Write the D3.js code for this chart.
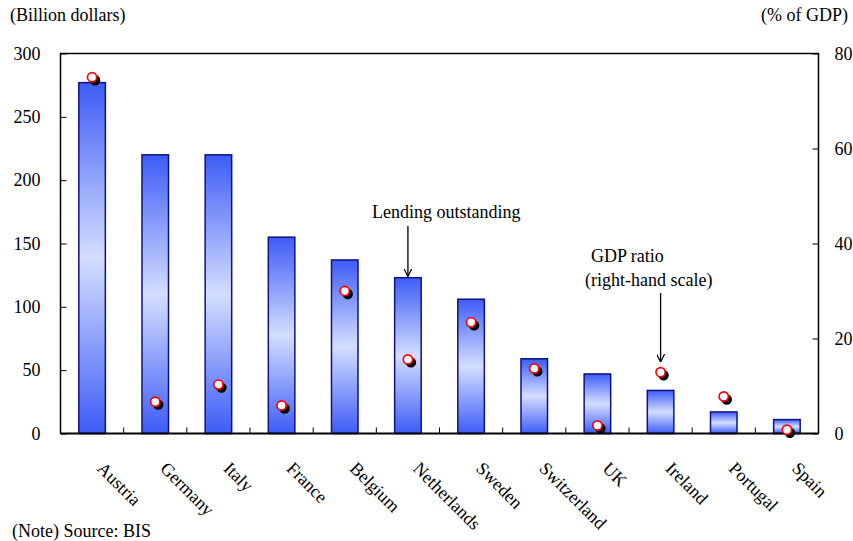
<!DOCTYPE html>
<html>
<head>
<meta charset="utf-8">
<script src="https://cdn.jsdelivr.net/npm/d3@7"></script>
<style>
  html, body { margin: 0; padding: 0; background: #fff; }
  svg text { font-family: "Liberation Serif", "Times New Roman", Times, "DejaVu Serif", serif; fill: #000; }
</style>
</head>
<body>
<svg id="chart" width="853" height="541"></svg>
<script>
// Cross-border lending by country (bars, left axis) and its ratio to GDP (dots, right axis)
const countries = ["Austria", "Germany", "Italy", "France", "Belgium", "Netherlands",
                   "Sweden", "Switzerland", "UK", "Ireland", "Portugal", "Spain"];
const lending = [277, 220, 220, 155, 137, 123, 106, 59, 47, 34, 17, 11];        // billion dollars
const gdpRatio = [75, 6.7, 10.3, 5.9, 30, 15.6, 23.4, 13.7, 1.7, 12.9, 7.8, 0.8]; // % of GDP
const leftTicks = [0, 50, 100, 150, 200, 250, 300];
const rightTicks = [0, 20, 40, 60, 80];

const serif = "'Liberation Serif', 'Times New Roman', Times, serif";
const svg = d3.select("#chart");
const m = { left: 60.5, right: 818.5, top: 53.5, bottom: 433.5 };
const fontSize = 18;

const x = d3.scaleBand().domain(countries).range([m.left, m.right]).paddingInner(0.58).paddingOuter(0.29);
const xOuter = d3.scaleBand().domain(countries).range([m.left, m.right]);
const yL = d3.scaleLinear().domain([0, 300]).range([m.bottom, m.top]);
const yR = d3.scaleLinear().domain([0, 80]).range([m.bottom, m.top]);

// Vertical gradient for bars: saturated at both ends, pale in the middle
const defs = svg.append("defs");
const grad = defs.append("linearGradient").attr("id", "barGrad")
  .attr("x1", 0).attr("y1", 0).attr("x2", 0).attr("y2", 1);
grad.append("stop").attr("offset", "0%").attr("stop-color", "#3d5cf6");
grad.append("stop").attr("offset", "50%").attr("stop-color", "#d4deff");
grad.append("stop").attr("offset", "100%").attr("stop-color", "#3d5cf6");

// Bars
svg.append("g").selectAll("rect").data(countries).join("rect")
  .attr("x", d => x(d))
  .attr("y", (d, i) => yL(lending[i]))
  .attr("width", x.bandwidth())
  .attr("height", (d, i) => yL(0) - yL(lending[i]))
  .attr("fill", "url(#barGrad)")
  .attr("stroke", "#10108a")
  .attr("stroke-width", 1.5);

// Frame: left, top, right lines
svg.append("path")
  .attr("d", `M${m.left},${m.bottom}V${m.top}H${m.right}V${m.bottom}`)
  .attr("fill", "none").attr("stroke", "#000").attr("stroke-width", 1.5);

// Left axis (ticks pointing inward)
const axL = svg.append("g").attr("transform", `translate(${m.left},0)`)
  .call(d3.axisLeft(yL).tickValues(leftTicks).tickSizeInner(-6).tickSizeOuter(0).tickPadding(20));
axL.attr("font-family", serif).attr("font-size", fontSize);
axL.select(".domain").remove();
axL.selectAll(".tick line").attr("stroke", "#000").attr("stroke-width", 1);

// Right axis (ticks pointing inward)
const axR = svg.append("g").attr("transform", `translate(${m.right},0)`)
  .call(d3.axisRight(yR).tickValues(rightTicks).tickSizeInner(-6).tickSizeOuter(0).tickPadding(16));
axR.attr("font-family", serif).attr("font-size", fontSize);
axR.select(".domain").remove();
axR.selectAll(".tick line").attr("stroke", "#000").attr("stroke-width", 1);

// Bottom axis: ticks at category boundaries, rotated country names
const axB = svg.append("g").attr("transform", `translate(0,${m.bottom})`);
axB.append("line").attr("x1", m.left).attr("x2", m.right).attr("stroke", "#000").attr("stroke-width", 2);
axB.selectAll("line.sep").data(countries.slice(1)).join("line").attr("class", "sep")
  .attr("x1", d => xOuter(d)).attr("x2", d => xOuter(d))
  .attr("y1", 0).attr("y2", -6).attr("stroke", "#000").attr("stroke-width", 1);
axB.selectAll("text").data(countries).join("text")
  .attr("transform", d => `translate(${x(d) + x.bandwidth() / 2 + 4},36) rotate(45)`)
  .attr("font-family", serif)
  .attr("font-size", fontSize)
  .text(d => d);

// GDP ratio dots: black shadow under a red ring
const dots = svg.append("g");
dots.selectAll("circle.shadow").data(countries).join("circle").attr("class", "shadow")
  .attr("cx", d => x(d) + x.bandwidth() / 2 + 3)
  .attr("cy", (d, i) => yR(gdpRatio[i]) + 3)
  .attr("r", 5.2).attr("fill", "#000");
dots.selectAll("circle.dot").data(countries).join("circle").attr("class", "dot")
  .attr("cx", d => x(d) + x.bandwidth() / 2)
  .attr("cy", (d, i) => yR(gdpRatio[i]))
  .attr("r", 4.6).attr("fill", "#fff").attr("stroke", "#f00").attr("stroke-width", 1.7);

// Plain text helper
function label(px, py, str, anchor) {
  return svg.append("text").attr("x", px).attr("y", py)
    .attr("font-family", serif).attr("font-size", fontSize)
    .attr("text-anchor", anchor || "start").text(str);
}

// Axis unit labels
label(10, 21, "(Billion dollars)");
label(848, 21, "(% of GDP)", "end");

// Annotations with arrows
const arrow = defs.append("marker").attr("id", "arrowHead")
  .attr("viewBox", "0 0 10 10").attr("refX", 10).attr("refY", 5)
  .attr("markerWidth", 8).attr("markerHeight", 8).attr("markerUnits", "userSpaceOnUse")
  .attr("orient", "auto");
arrow.append("path").attr("d", "M0,0L10,5L0,10").attr("fill", "none").attr("stroke", "#000").attr("stroke-width", 1.5);

const netherX = x("Netherlands") + x.bandwidth() / 2;
label(372, 218, "Lending outstanding");
svg.append("line").attr("x1", netherX).attr("x2", netherX).attr("y1", 226).attr("y2", 276.5)
  .attr("stroke", "#000").attr("stroke-width", 1.3).attr("marker-end", "url(#arrowHead)");

const irelandX = x("Ireland") + x.bandwidth() / 2;
label(591, 262, "GDP ratio");
label(585, 286, "(right-hand scale)");
svg.append("line").attr("x1", irelandX).attr("x2", irelandX).attr("y1", 293).attr("y2", 362)
  .attr("stroke", "#000").attr("stroke-width", 1.3).attr("marker-end", "url(#arrowHead)");

// Source note
label(12, 537, "(Note) Source: BIS");
</script>
</body>
</html>
